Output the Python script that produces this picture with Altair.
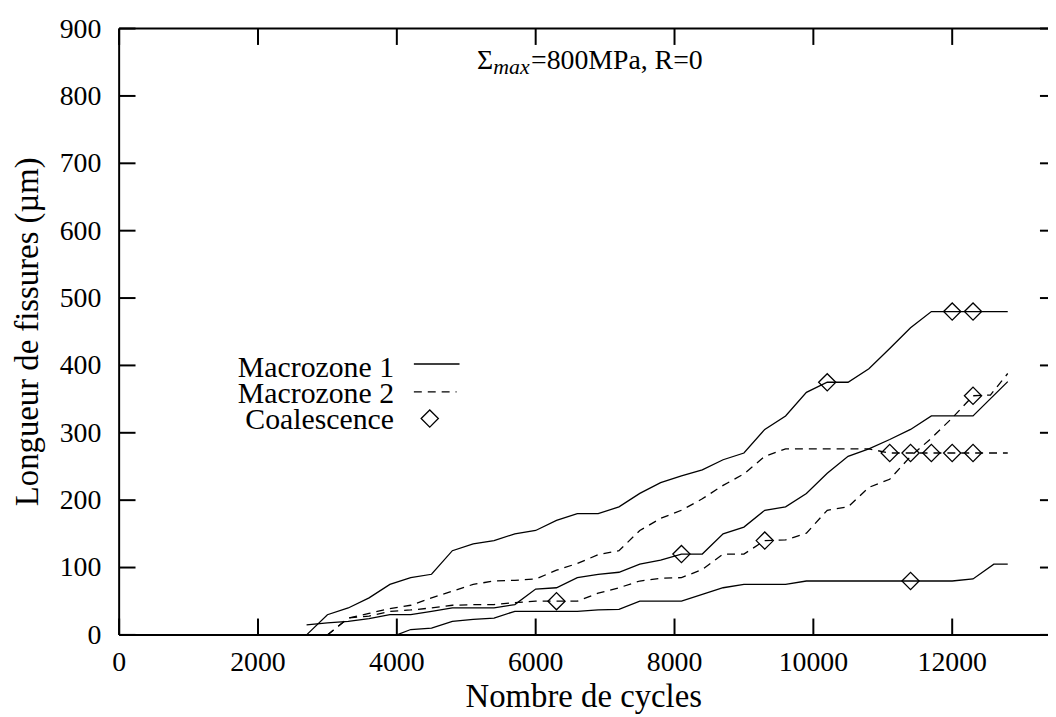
import altair as alt
import pandas as pd

FONT = "Liberation Serif"

X_TICKS = [0, 2000, 4000, 6000, 8000, 10000, 12000]
Y_TICKS = [0, 100, 200, 300, 400, 500, 600, 700, 800, 900]
X_FULL = 13500      # full x range of the original frame (its right edge is cropped)
X_SHOWN = 13380     # part of the x range visible in the picture
Y_MAX = 900

# Macrozone 1 (solid curves)
A_X = [2700, 3000, 3300, 3600, 3900, 4200, 4500, 4800, 5100, 5400, 5700, 6000, 6300, 6600, 6900, 7200, 7500,
       7800, 8100, 8400, 8700, 9000, 9300, 9600, 9900, 10200, 10500, 10800, 11100, 11400, 11700, 12000, 12300, 12800]
A_Y = [0, 30, 40, 55, 75, 85, 90, 125, 135, 140, 150, 155, 170, 180, 180, 190, 210,
       226, 236, 245, 260, 270, 305, 325, 360, 375, 375, 395, 425, 456, 480, 480, 480, 480]

B_X = [2700, 3000, 3300, 3600, 3900, 4200, 4500, 4800, 5100, 5400, 5700, 6000, 6300, 6600, 6900, 7200, 7500,
       7800, 8100, 8400, 8700, 9000, 9300, 9600, 9900, 10200, 10500, 10800, 11100, 11400, 11700, 12000, 12300, 12800]
B_Y = [15, 18, 20, 24, 30, 30, 35, 40, 40, 40, 45, 68, 70, 85, 90, 93, 105,
       111, 120, 120, 150, 160, 185, 190, 210, 240, 265, 276, 290, 305, 325, 325, 325, 376]

E_X = [4000, 4200, 4500, 4800, 5100, 5400, 5700, 6000, 6300, 6600, 6900, 7200, 7500, 7800, 8100, 8400,
       8700, 9000, 9300, 9600, 9900, 10200, 10500, 10800, 11100, 11400, 11700, 12000, 12300, 12600, 12800]
E_Y = [0, 8, 10, 20, 23, 25, 35, 35, 35, 35, 37, 38, 50, 50, 50, 60,
       70, 75, 75, 75, 80, 80, 80, 80, 80, 80, 80, 80, 83, 105, 105]

# Macrozone 2 (dashed curves)
C_X = [3000, 3300, 3600, 3900, 4200, 4500, 4800, 5100, 5400, 5700, 6000, 6300, 6600, 6900, 7200, 7500, 7800,
       8100, 8400, 8700, 9000, 9300, 9600, 9900, 10200, 10500, 10800, 11100, 11400, 11700, 12000, 12300, 12800]
C_Y = [0, 25, 32, 39, 44, 55, 65, 75, 80, 81, 83, 96, 106, 119, 125, 155, 173,
       185, 202, 222, 239, 265, 276, 276, 276, 276, 276, 270, 270, 270, 270, 270, 270]

D_X = [3000, 3300, 3600, 3900, 4200, 4500, 4800, 5100, 5400, 5700, 6000, 6300, 6600, 6900, 7200, 7500, 7800,
       8100, 8400, 8700, 9000, 9300, 9600, 9900, 10200, 10500, 10800, 11100, 11400, 11700, 12000, 12300, 12550, 12800]
D_Y = [0, 25, 28, 35, 37, 40, 44, 45, 45, 48, 50, 50, 50, 62, 70, 80, 84,
       85, 97, 120, 120, 140, 141, 151, 185, 190, 219, 231, 265, 292, 322, 355, 356, 388]

# Coalescence points
COAL_X = [6300, 8100, 9300, 10200, 11100, 11400, 11700, 12000, 12300, 11400, 12000, 12300, 12300]
COAL_Y = [50, 120, 140, 375, 270, 270, 270, 270, 270, 80, 480, 480, 355]

LEGEND_LABELS = ["Macrozone 1", "Macrozone 2", "Coalescence"]
X_TITLE = "Nombre de cycles"
Y_TITLE = "Longueur de fissures (µm)"

rows = []
for name, xs_, ys_, style in [("A", A_X, A_Y, "solid"), ("B", B_X, B_Y, "solid"), ("E", E_X, E_Y, "solid"),
                              ("C", C_X, C_Y, "dashed"), ("D", D_X, D_Y, "dashed")]:
    for i, (xv, yv) in enumerate(zip(xs_, ys_)):
        rows.append({"curve": name, "style": style, "order": i, "x": xv, "y": yv})
df = pd.DataFrame(rows)
coal = pd.DataFrame({"x": COAL_X, "y": COAL_Y})

W, H = 936, 611
W_FULL = W * X_FULL / X_SHOWN
TICK = 16.5
xsc = alt.Scale(domain=[0, X_SHOWN], nice=False, zero=False)
ysc = alt.Scale(domain=[0, Y_MAX], nice=False, zero=False)
XE = dict(scale=xsc, axis=None)
YE = dict(scale=ysc, axis=None)

solid = alt.Chart(df[df["style"] == "solid"]).mark_line(color="black", strokeWidth=1.3).encode(
    x=alt.X("x:Q", **XE), y=alt.Y("y:Q", **YE), detail="curve:N", order="order:Q")
dashed = alt.Chart(df[df["style"] == "dashed"]).mark_line(color="black", strokeWidth=1.3, strokeDash=[8, 6]).encode(
    x=alt.X("x:Q", **XE), y=alt.Y("y:Q", **YE), detail="curve:N", order="order:Q")
diamonds = alt.Chart(coal).mark_point(shape="diamond", size=300, filled=False, color="black",
                                      strokeWidth=1.3, opacity=1).encode(
    x=alt.X("x:Q", **XE), y=alt.Y("y:Q", **YE))

xt = pd.DataFrame({"v": X_TICKS})
yt = pd.DataFrame({"v": Y_TICKS})
one = pd.DataFrame({"k": [0]})
tick_style = dict(color="black", strokeWidth=2)

frame = [
    alt.Chart(one).mark_rule(**tick_style).encode(x=alt.value(0), y=alt.value(0), y2=alt.value(H)),
    alt.Chart(one).mark_rule(**tick_style).encode(x=alt.value(0), x2=alt.value(W_FULL), y=alt.value(H)),
    alt.Chart(one).mark_rule(**tick_style).encode(x=alt.value(0), x2=alt.value(W_FULL), y=alt.value(0)),
    alt.Chart(one).mark_rule(**tick_style).encode(x=alt.value(W_FULL), y=alt.value(0), y2=alt.value(H)),
    alt.Chart(xt).mark_rule(**tick_style).encode(x=alt.X("v:Q", **XE), y=alt.value(H), y2=alt.value(H - TICK)),
    alt.Chart(xt).mark_rule(**tick_style).encode(x=alt.X("v:Q", **XE), y=alt.value(0), y2=alt.value(TICK)),
    alt.Chart(yt).mark_rule(**tick_style).encode(y=alt.Y("v:Q", **YE), x=alt.value(0), x2=alt.value(TICK)),
    alt.Chart(yt).mark_rule(**tick_style).encode(y=alt.Y("v:Q", **YE), x=alt.value(W_FULL), x2=alt.value(W_FULL - TICK)),
]

labels = [
    alt.Chart(xt).mark_text(align="center", baseline="alphabetic", font=FONT, fontSize=28, color="black").encode(
        x=alt.X("v:Q", **XE), y=alt.value(H + 36), text=alt.Text("v:Q", format="d")),
    alt.Chart(yt).mark_text(align="right", baseline="alphabetic", dy=9, font=FONT, fontSize=28, color="black").encode(
        y=alt.Y("v:Q", **YE), x=alt.value(-18), text=alt.Text("v:Q", format="d")),
]


def txt(text, x, y, size=30, align="right", italic=False, angle=0):
    return alt.Chart(pd.DataFrame({"t": [text]})).mark_text(
        align=align, baseline="alphabetic", font=FONT, fontSize=size, angle=angle,
        fontStyle="italic" if italic else "normal", color="black").encode(
        x=alt.value(x), y=alt.value(y), text="t:N")


titles = [
    txt(X_TITLE, W_FULL / 2 - 4, H + 73, size=33, align="center"),
    txt(Y_TITLE, -82, H / 2, size=33, align="center", angle=270),
    txt("Σ", 377, 41, size=28, align="right"),
    txt("max", 377, 46, size=22, align="left", italic=True),
    txt("=800MPa, R=0", 415, 41, size=28, align="left"),
]

legend = [
    txt(LEGEND_LABELS[0], 277, 351),
    txt(LEGEND_LABELS[1], 277, 377),
    txt(LEGEND_LABELS[2], 277, 404),
    alt.Chart(one).mark_rule(color="black", strokeWidth=1.3).encode(x=alt.value(297), x2=alt.value(343), y=alt.value(338)),
    alt.Chart(one).mark_rule(color="black", strokeWidth=1.3, strokeDash=[8, 6]).encode(x=alt.value(297), x2=alt.value(340), y=alt.value(366)),
    alt.Chart(one).mark_point(shape="diamond", size=300, filled=False, color="black", strokeWidth=1.3, opacity=1).encode(
        x=alt.value(313), y=alt.value(393)),
]

chart = alt.layer(solid, dashed, diamonds, *frame, *labels, *titles, *legend).properties(
    width=W, height=H,
    background="white",
    autosize=alt.AutoSizeParams(type="none"),
    padding={"left": 112, "top": 18, "right": 0, "bottom": 80},
).configure_view(strokeWidth=0)

chart.save("out.html", embed_options={"renderer": "svg", "actions": False})
